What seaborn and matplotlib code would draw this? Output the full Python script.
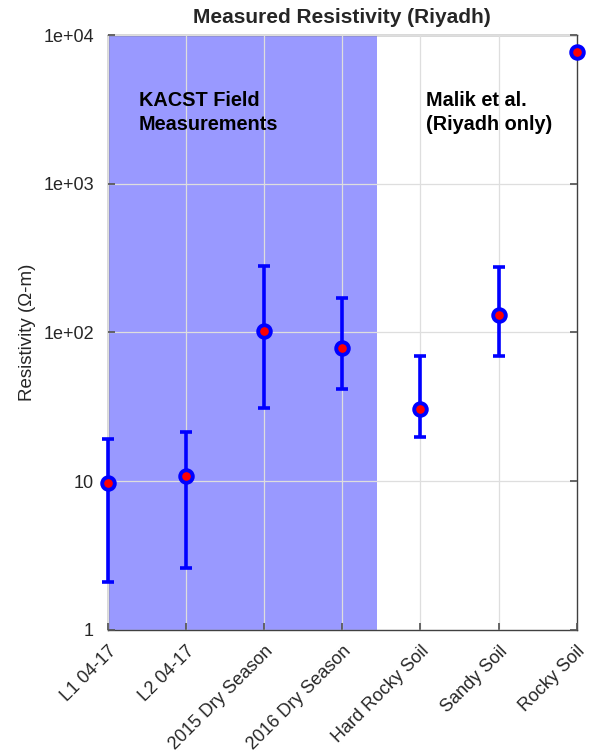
import matplotlib
matplotlib.use("Agg")
import matplotlib.pyplot as plt
import seaborn as sns
import numpy as np
import pandas as pd

categories = ["L1 04-17", "L2 04-17", "2015 Dry Season", "2016 Dry Season",
              "Hard Rocky Soil", "Sandy Soil", "Rocky Soil"]
resistivity = [9.8, 10.8, 102, 79, 30.5, 132, 7700]
lower = [2.1, 2.6, 31, 41.5, 19.8, 70, 7400]
upper = [19.3, 21.5, 278, 170, 69, 275, 7900]
ytick_vals = [1, 10, 100, 1000, 10000]
ytick_labels = ["1", "10", "1e+02", "1e+03", "1e+04"]

sns.set_theme(style="ticks")
plt.rcParams['font.family'] = ['Liberation Sans', 'DejaVu Sans']

df = pd.DataFrame({"cat": categories, "val": resistivity})

fig = plt.figure(figsize=(6.02, 7.56), dpi=100)
ax = fig.add_axes([0.179, 0.1667, 0.779, 0.787])

ax.axvspan(0, 3.45, color=(0.6, 0.6, 1.0), zorder=0, lw=0)

x = np.arange(len(categories))
vals = np.array(resistivity)
yerr = np.vstack([vals - np.array(lower), np.array(upper) - vals])
ax.errorbar(x, vals, yerr=yerr, fmt="none", ecolor="#0000ff", elinewidth=2.6,
            capsize=4.3, capthick=2.6, zorder=3, clip_on=False)
sns.scatterplot(data=df, x="cat", y="val", ax=ax, s=82, color="red",
                edgecolor="#0000ff", linewidth=2.8, zorder=4, clip_on=False)

ax.set_yscale("log")
ax.set_ylim(1, 10000)
ax.set_xlim(0, 6)
ax.set_yticks(ytick_vals)
ax.set_yticklabels(ytick_labels)
ax.minorticks_off()
ax.set_xticks(x)
ax.set_xticklabels(categories, rotation=45, ha="right", rotation_mode="anchor")
ax.set_xlabel("")
ax.set_ylabel("Resistivity (\u03a9-m)", fontsize=13.5, color="#262626", labelpad=5)
ax.set_title("Measured Resistivity (Riyadh)", fontsize=15, fontweight="bold", pad=9)

ax.grid(True, color="#dedede", linewidth=0.9, zorder=1)
ax.set_axisbelow(False)
for s in ax.spines.values():
    s.set_visible(True)
    s.set_color("#404040")
    s.set_linewidth(1.0)
ax.tick_params(axis="both", direction="in", top=False, right=True, length=5,
               labelsize=13, colors="#555555", labelcolor="#262626")
ax.tick_params(axis="y", pad=10)
ax.tick_params(axis="x", pad=9)

ax.text(0.40, 4200, "KACST Field\nMeasurements", fontsize=14.3, fontweight="bold",
        va="top", ha="left", color="black", linespacing=1.35)
ax.text(4.07, 4200, "Malik et al.\n(Riyadh only)", fontsize=14.3, fontweight="bold",
        va="top", ha="left", color="black", linespacing=1.35)

fig.savefig("out.png", dpi=100)
